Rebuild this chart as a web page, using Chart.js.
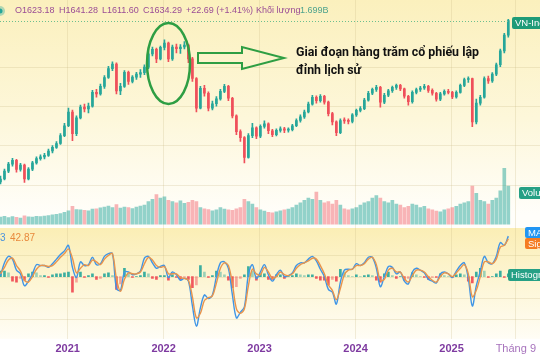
<!DOCTYPE html>
<html>
<head>
<meta charset="utf-8">
<script src="https://cdn.jsdelivr.net/npm/chart.js@4.4.0/dist/chart.umd.min.js"></script>
<style>
  html, body { margin: 0; padding: 0; background: #fff; }
</style>
</head>
<body>
<canvas id="chart" width="540" height="360"></canvas>
<script>
// VN-Index, sampled twice a month from spring 2020 to Aug 2025
const startYear = 2020.30;
const stepsPerYear = 24;
const firstOpen = 815;

const closes = [
  830, 870, 905, 925, 878, 900, 830, 880, 912, 933,
  942, 950, 972, 990, 1010, 1050, 1100, 1170, 1060, 1140,
  1195, 1185, 1200, 1270, 1262, 1300, 1345, 1390, 1413, 1277,
  1300, 1372, 1325, 1347, 1362, 1370, 1398, 1465, 1488, 1440,
  1498, 1520, 1440, 1500, 1492, 1500, 1510, 1440, 1340, 1190,
  1290, 1265, 1190, 1212, 1237, 1275, 1300, 1240, 1150, 1070,
  1040, 940, 1050, 1090, 1047, 1097, 1110, 1075, 1055, 1077,
  1085, 1078, 1080, 1100, 1127, 1145, 1170, 1210, 1245, 1227,
  1250, 1220, 1162, 1120, 1065, 1127, 1125, 1122, 1155, 1178,
  1187, 1230, 1265, 1285, 1295, 1220, 1255, 1278, 1295, 1305,
  1287, 1250, 1222, 1270, 1284, 1292, 1300, 1280, 1265, 1235,
  1262, 1275, 1270, 1247, 1270, 1305, 1335, 1340, 1120, 1215,
  1245, 1340, 1328, 1362, 1410, 1480, 1560, 1634
];

const highs = [
  845, 880, 915, 935, 930, 910, 905, 888, 920, 942,
  952, 960, 982, 1000, 1020, 1060, 1112, 1190, 1180, 1150,
  1205, 1210, 1215, 1280, 1285, 1312, 1355, 1402, 1425, 1420,
  1315, 1380, 1378, 1355, 1372, 1385, 1410, 1475, 1500, 1495,
  1505, 1536, 1525, 1510, 1515, 1512, 1528, 1515, 1448, 1345,
  1300, 1305, 1272, 1225, 1248, 1285, 1310, 1305, 1245, 1155,
  1080, 1045, 1060, 1112, 1095, 1105, 1125, 1115, 1082, 1085,
  1095, 1092, 1090, 1108, 1135, 1155, 1180, 1220, 1255, 1252,
  1258, 1255, 1225, 1168, 1125, 1135, 1140, 1135, 1162, 1185,
  1198, 1240, 1275, 1292, 1305, 1300, 1265, 1285, 1302, 1312,
  1310, 1292, 1255, 1278, 1292, 1300, 1310, 1305, 1288, 1270,
  1270, 1282, 1285, 1275, 1278, 1312, 1342, 1348, 1342, 1235,
  1255, 1348, 1352, 1370, 1418, 1490, 1570, 1641
];

const lows = [
  805, 825, 862, 895, 865, 870, 812, 825, 872, 905,
  925, 932, 945, 962, 985, 1005, 1045, 1095, 1025, 1050,
  1135, 1170, 1165, 1195, 1245, 1255, 1290, 1340, 1380, 1262,
  1258, 1295, 1310, 1318, 1335, 1345, 1360, 1390, 1455, 1420,
  1435, 1485, 1425, 1432, 1470, 1468, 1490, 1420, 1325, 1170,
  1185, 1250, 1175, 1180, 1200, 1230, 1268, 1228, 1140, 1055,
  1020, 912, 935, 1040, 1035, 1040, 1088, 1060, 1045, 1048,
  1068, 1065, 1068, 1074, 1095, 1118, 1138, 1165, 1205, 1215,
  1220, 1210, 1150, 1105, 1050, 1060, 1112, 1110, 1115, 1148,
  1170, 1182, 1225, 1258, 1275, 1195, 1212, 1248, 1270, 1285,
  1278, 1240, 1205, 1215, 1262, 1275, 1285, 1270, 1255, 1225,
  1228, 1255, 1262, 1238, 1240, 1265, 1298, 1320, 1095, 1110,
  1205, 1240, 1315, 1320, 1355, 1400, 1470, 1550
];

// average daily volume, million shares
const volumes = [
  300, 330, 280, 320, 290, 260, 350, 310, 300, 330,
  320, 340, 360, 390, 420, 450, 500, 560, 750, 620,
  600, 580, 560, 640, 650, 690, 720, 760, 700, 820,
  680, 720, 700, 660, 720, 760, 800, 950, 1050, 1250,
  1100, 1150, 1000, 950, 900, 980, 880, 920, 1000, 950,
  700, 650, 620, 560, 600, 700, 640, 600, 580, 650,
  700, 1050, 950, 850, 700, 600, 550, 500, 480, 520,
  560, 600, 640, 700, 800, 900, 1000, 1100, 1050, 1350,
  1000, 900, 950, 850, 1000, 800, 650, 600, 650, 700,
  800, 900, 950, 1100, 1200, 1100, 950, 900, 1000, 850,
  800, 700, 750, 850, 800, 700, 750, 650, 600, 550,
  520, 600, 650, 700, 750, 850, 900, 950, 1600, 1300,
  1000, 950, 850, 1000, 1100, 1400, 2350, 1600
];

const macdLine = [
  1, 15, 22, 19, 7, 3, -10, -5, 3, 13,
  12, 12, 10, 14, 19, 24, 28, 34, 10, -1,
  16, 12, 13, 21, 13, 14, 22, 25, 25, -13,
  -15, 5, 5, 2, 3, 6, 20, 22, 15, 9,
  11, 12, -1, 5, 2, -4, -2, -5, -32, -54,
  -34, -20, -24, -20, 0, 15, 16, 9, -20, -45,
  -39, -33, 2, 13, -2, 5, 13, 2, -5, 2,
  7, 0, 1, 4, 12, 15, 15, 19, 22, 17,
  8, 0, -14, -17, -30, -6, 7, 8, 8, 14,
  12, 15, 21, 21, 9, -11, 0, 11, 10, 3,
  5, -5, -8, 5, 9, 7, 4, -3, -5, -7,
  3, 5, 3, -1, 6, 12, 15, -2, -32, -10,
  6, 22, 15, 14, 22, 37, 34, 44
];

const signalLine = [
  3, 10, 18, 20, 12, 6, -4, -6, 0, 8,
  12, 12, 11, 12, 16, 21, 25, 30, 20, 4,
  9, 13, 12, 18, 16, 13, 19, 23, 25, -2,
  -16, -3, 4, 3, 3, 5, 14, 21, 18, 12,
  10, 11, 3, 3, 3, -1, -2, -4, -22, -45,
  -40, -26, -23, -21, -7, 9, 15, 12, -8, -35,
  -40, -35, -10, 8, 3, 2, 10, 5, -2, 0,
  5, 2, 1, 3, 9, 13, 15, 17, 20, 19,
  12, 3, -9, -15, -25, -13, 2, 7, 8, 12,
  12, 14, 19, 21, 13, -4, -3, 7, 9, 5,
  5, -2, -6, 1, 7, 7, 5, 0, -4, -6,
  0, 4, 3, 0, 4, 9, 13, 3, -22, -15,
  0, 16, 16, 14, 19, 32, 34, 41
];

const histValues = [
  6, 6, 4, -5, -6, -2, -4, 3, 5, 4,
  1, 1, -1, 2, 3, 3, 4, 5, -17, -6,
  5, -1, 1, 3, -3, -2, 3, 4, 1, -14,
  -8, 9, 3, -1, 0, 1, 5, 3, -2, -3,
  1, 1, -4, 2, -1, -3, -1, -3, -12, -9,
  12, 5, -1, 1, 6, 5, 2, -4, -12, -11,
  -2, 2, 11, 6, -4, 3, 3, -3, -3, 2,
  2, -2, 0, 1, 3, 2, 1, 2, 2, -2,
  -4, -4, -9, -3, -5, 8, 5, 1, 0, 2,
  0, 1, 2, 1, -4, -6, 3, 5, 1, -2,
  0, -4, -2, 4, 2, 0, -1, -3, -1, -1,
  3, 1, 0, -1, 2, 3, 2, -5, -7, 5,
  9, 6, -1, 0, 3, 6, -1, 3
];

const tickYears = [2021, 2022, 2023, 2024, 2025, 2025.67];
const tickNames = ["2021", "2022", "2023", "2024", "2025", "Tháng 9"];

// colours
const upColor = "#26a69a";
const downColor = "#ef4f5a";

const times = closes.map((_, i) => startYear + i / stepsPerYear);
const opens = closes.map((c, i) => i === 0 ? firstOpen : closes[i - 1]);
const isUp = closes.map((c, i) => c >= opens[i]);

// all panels share one chart area; each hidden y axis is sized so its marks land in its band
const AREA_H = 343;
function axisRange(zeroPx, value0, pxPerUnit) {
  return { min: value0 - (AREA_H - zeroPx) / pxPerUnit, max: value0 + zeroPx / pxPerUnit };
}
const priceRange = axisRange(42, 1528, 0.1994);
const volRange = axisRange(227, 0, 0.0241);
const macdRange = axisRange(280, 0, 0.93);

// backgrounds, grid and text overlays
const decor = {
  id: "decor",
  beforeDraw(chart) {
    const ctx = chart.ctx;
    const yp = chart.scales.yPrice, ym = chart.scales.yMacd;
    ctx.save();
    ctx.fillStyle = "#ffffff";
    ctx.fillRect(0, 0, 540, 360);
    let g = ctx.createLinearGradient(0, 0, 0, 215);
    g.addColorStop(0, "#fbf0bd");
    g.addColorStop(0.55, "#fdf7da");
    g.addColorStop(1, "#fffefa");
    ctx.fillStyle = g;
    ctx.fillRect(0, 0, 540, 228);
    g = ctx.createLinearGradient(0, 228, 0, 345);
    g.addColorStop(0, "#fbeeb5");
    g.addColorStop(1, "#fffef9");
    ctx.fillStyle = g;
    ctx.fillRect(0, 228, 540, chart.chartArea.bottom - 228);

    // faint horizontal grid
    ctx.strokeStyle = "rgba(190,175,120,0.22)";
    ctx.lineWidth = 1;
    [800, 1000, 1200, 1400].forEach(v => {
      const y = Math.round(yp.getPixelForValue(v)) + 0.5;
      ctx.beginPath(); ctx.moveTo(0, y); ctx.lineTo(540, y); ctx.stroke();
    });
    [-46, -23, 0, 23].forEach(v => {
      const y = Math.round(ym.getPixelForValue(v)) + 0.5;
      ctx.beginPath(); ctx.moveTo(0, y); ctx.lineTo(540, y); ctx.stroke();
    });
    ctx.restore();
  },
  afterDraw(chart) {
    const ctx = chart.ctx;
    const xs = chart.scales.x, yp = chart.scales.yPrice;
    ctx.save();

    // last price dotted line
    const lastY = Math.round(yp.getPixelForValue(closes[closes.length - 1])) + 0.5;
    ctx.strokeStyle = "#6cbf8f";
    ctx.setLineDash([1, 2]);
    ctx.beginPath(); ctx.moveTo(0, lastY); ctx.lineTo(xs.getPixelForValue(times[times.length - 1]), lastY); ctx.stroke();
    ctx.setLineDash([]);

    // green ellipse round the 2022 top
    ctx.strokeStyle = "#2e9e43";
    ctx.lineWidth = 2.5;
    ctx.beginPath();
    ctx.ellipse(168.5, 63.5, 21.5, 40.5, 0, 0, Math.PI * 2);
    ctx.stroke();

    // outlined arrow
    ctx.lineWidth = 2;
    ctx.beginPath();
    ctx.moveTo(198, 53); ctx.lineTo(242, 53); ctx.lineTo(242, 47);
    ctx.lineTo(284, 58);
    ctx.lineTo(242, 69); ctx.lineTo(242, 63); ctx.lineTo(198, 63);
    ctx.closePath();
    ctx.stroke();

    // note, squeezed to the width it takes in the screenshot
    const line1 = "Giai đoạn hàng trăm cổ phiếu lập";
    ctx.font = "bold 13.5px Roboto, sans-serif";
    const sx = 183 / ctx.measureText(line1).width;
    ctx.save();
    ctx.translate(296, 0);
    ctx.scale(sx, 1);
    ctx.fillStyle = "#111";
    ctx.textBaseline = "alphabetic";
    ctx.fillText(line1, 0, 56);
    ctx.fillText("đỉnh lịch sử", 0, 74);
    ctx.restore();

    // header
    ctx.font = "9px 'Liberation Sans', Arial, sans-serif";
    ctx.textBaseline = "middle";
    const purple = "#9a4c95";
    [["O1623.18", 15], ["H1641.28", 59], ["L1611.60", 102], ["C1634.29", 143],
     ["+22.69 (+1.41%)", 186], ["Khối lượng", 256]].forEach(([s, x]) => {
      ctx.fillStyle = purple;
      ctx.fillText(s, x, 11);
    });
    ctx.fillStyle = "#4ea38d";
    ctx.fillText("1.699B", 300, 11);
    ctx.fillStyle = "rgba(38,166,154,0.35)";
    ctx.beginPath(); ctx.arc(0, 11, 5, 0, Math.PI * 2); ctx.fill();
    ctx.fillStyle = "#26a69a";
    ctx.beginPath(); ctx.arc(0, 11, 2.5, 0, Math.PI * 2); ctx.fill();

    // MACD values cut at the left edge
    ctx.font = "10px 'Liberation Sans', Arial, sans-serif";
    ctx.fillStyle = "#4a93dc";
    ctx.fillText("3", 0, 238);
    ctx.fillStyle = "#e8893c";
    ctx.fillText("42.87", 10, 238);

    // right-hand labels
    function tag(text, x, y, h, color) {
      ctx.fillStyle = color;
      ctx.beginPath();
      ctx.roundRect(x, y, 60, h, 2);
      ctx.fill();
      ctx.fillStyle = "#fff";
      ctx.font = "9.5px 'Liberation Sans', Arial, sans-serif";
      ctx.fillText(text, x + 3, y + h / 2 + 0.5);
    }
    tag("VN-Index", 512, 17, 12, "#1e9b78");
    tag("Volume", 519, 187, 12, "#26a085");
    tag("MACD", 525, 227, 11, "#2196f3");
    tag("Signal", 525, 238, 11, "#f57c22");
    tag("Histogram", 508, 269, 12, "#26a085");
    ctx.restore();
  }
};

const ctx = document.getElementById("chart").getContext("2d");
const chart = new Chart(ctx, {
  data: {
    datasets: [
      {
        type: "line",
        label: "MACD",
        yAxisID: "yMacd",
        data: times.map((t, i) => ({ x: t, y: macdLine[i] })),
        borderColor: "#3f95e6",
        borderWidth: 1.4,
        pointRadius: 0,
        tension: 0.35,
        order: 1
      },
      {
        type: "line",
        label: "Signal",
        yAxisID: "yMacd",
        data: times.map((t, i) => ({ x: t, y: signalLine[i] })),
        borderColor: "#e8944c",
        borderWidth: 1.4,
        pointRadius: 0,
        tension: 0.35,
        order: 0
      },
      {
        type: "bar",
        label: "Histogram",
        yAxisID: "yMacd",
        data: times.map((t, i) => ({ x: t, y: histValues[i] })),
        backgroundColor: histValues.map((v, i) => {
          const prev = i === 0 ? 0 : histValues[i - 1];
          if (v >= 0) return v >= prev ? "rgba(38,166,154,0.9)" : "rgba(38,166,154,0.45)";
          return v <= prev ? "rgba(240,70,80,0.9)" : "rgba(240,70,80,0.45)";
        }),
        barThickness: 2,
        grouped: false,
        order: 3
      },
      {
        type: "bar",
        label: "Volume",
        yAxisID: "yVol",
        data: times.map((t, i) => ({ x: t, y: volumes[i] })),
        backgroundColor: isUp.map(u => u ? "rgba(38,166,154,0.5)" : "rgba(239,79,90,0.42)"),
        barThickness: 3,
        grouped: false,
        order: 5
      },
      {
        type: "bar",
        label: "VN-Index wicks",
        yAxisID: "yPrice",
        data: times.map((t, i) => ({ x: t, y: [lows[i], highs[i]] })),
        backgroundColor: isUp.map(u => u ? upColor : downColor),
        barThickness: 1,
        grouped: false,
        order: 4
      },
      {
        type: "bar",
        label: "VN-Index",
        yAxisID: "yPrice",
        data: times.map((t, i) => ({ x: t, y: [opens[i], closes[i]] })),
        backgroundColor: isUp.map(u => u ? upColor : downColor),
        barThickness: 2,
        minBarLength: 1,
        grouped: false,
        order: 2
      }
    ]
  },
  options: {
    responsive: false,
    animation: false,
    layout: { padding: 0 },
    plugins: { legend: { display: false }, tooltip: { enabled: false } },
    scales: {
      x: {
        type: "linear",
        offset: false,
        min: 2020.295,
        max: 2025.891,
        afterBuildTicks: s => { s.ticks = tickYears.map(v => ({ value: v })); },
        ticks: {
          autoSkip: false,
          maxRotation: 0,
          padding: 4,
          callback: (v, i) => tickNames[i],
          color: c => c.index === 5 ? "#a773bd" : "#7e3aa0",
          font: c => ({ family: "'Liberation Sans', Arial, sans-serif", size: 11, weight: c.index === 5 ? "normal" : "bold" })
        },
        grid: { color: "rgba(200,185,130,0.25)", drawTicks: false, offset: false },
        border: { display: false }
      },
      yPrice: { display: false, min: priceRange.min, max: priceRange.max },
      yVol: { display: false, min: volRange.min, max: volRange.max },
      yMacd: { display: false, min: macdRange.min, max: macdRange.max }
    }
  },
  plugins: [decor]
});
</script>
</body>
</html>
